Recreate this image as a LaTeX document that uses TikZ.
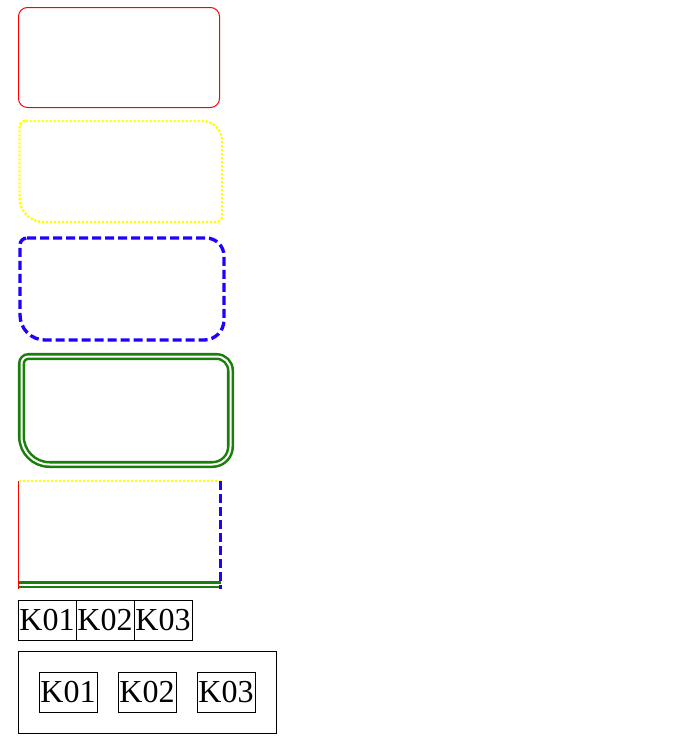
\documentclass[tikz,border=0pt]{standalone}
\usepackage{xcolor}
\usepackage{fontspec}
\setmainfont{Liberation Serif}
\usetikzlibrary{positioning,fit}

\definecolor{bordred}{HTML}{FF0000}
\definecolor{bordyellow}{HTML}{FFFF00}
\definecolor{bordblue}{HTML}{2000FF}
\definecolor{bordgreen}{HTML}{1A7F0A}

% rounded box with own radius per corner: x1,y1,x2,y2,tl,tr,br,bl
\newcommand{\cornerbox}[8]{({#1+#5},#2) -- ({#3-#6},#2)
	arc[start angle=-90,end angle=0,radius=#6] -- (#3,{#4-#7})
	arc[start angle=0,end angle=90,radius=#7] -- ({#1+#8},#4)
	arc[start angle=90,end angle=180,radius=#8] -- (#1,{#2+#5})
	arc[start angle=180,end angle=270,radius=#5] -- cycle}

\tikzset{
	redline/.style={draw=bordred, line width=0.75pt},
	yellowline/.style={draw=bordyellow, line width=1.8pt, dash pattern=on 1.6pt off 1.4pt},
	blueline/.style={draw=bordblue, line width=2.5pt, dash pattern=on 6.75pt off 3pt},
	greenline/.style={draw=bordgreen, line width=1.9pt, double=white, double distance=1.5pt},
	keybox/.style={draw, line width=0.75pt, inner sep=0pt, outer sep=0pt, minimum width=43.5pt, minimum height=30pt, font=\fontsize{24}{28}\selectfont},
}

\begin{document}
\begin{tikzpicture}[x=0.75pt, y=-0.75pt]
		\useasboundingbox (0,0) rectangle (675,739);

		% single borders
		\draw[redline] \cornerbox{18.5}{7.5}{219.5}{107.5}{9}{9}{9}{9};
		\draw[yellowline] \cornerbox{19.5}{121}{222}{222}{6}{20}{6}{24};
		\draw[blueline] \cornerbox{20}{238}{224}{340}{7}{18}{20}{25};
		\draw[greenline] \cornerbox{21.5}{356.5}{230.5}{464.5}{7}{14}{18}{28};

		% one box, four borders
		\coordinate (tl) at (18.5,481);
		\coordinate (tr) at (220.5,481);
		\coordinate (br) at (220.5,589);
		\coordinate (bl) at (18.5,589);
		\coordinate (bli) at (18.5,584.5);
		\coordinate (bri) at (220.5,584.5);
		\draw[redline] (tl) -- (bl);
		\draw[yellowline] (tl) -- (tr);
		\draw[greenline] (bli) -- (bri);
		\draw[blueline] (tr) -- (br);

		% keys side by side
		\node[keybox] (k1) at (47,620) {K01};
		\node[keybox, right=0pt of k1] (k2) {K02};
		\node[keybox, right=0pt of k2] (k3) {K03};

		% keys in a frame
		\node[keybox] (m1) at (68,692) {K01};
		\node[keybox, right=15.75pt of m1] (m2) {K02};
		\node[keybox, right=15.75pt of m2] (m3) {K03};
		\node[draw, line width=0.75pt, inner sep=15.75pt, outer sep=0pt, fit=(m1) (m3)] (frame) {};

	\end{tikzpicture}
\end{document}
